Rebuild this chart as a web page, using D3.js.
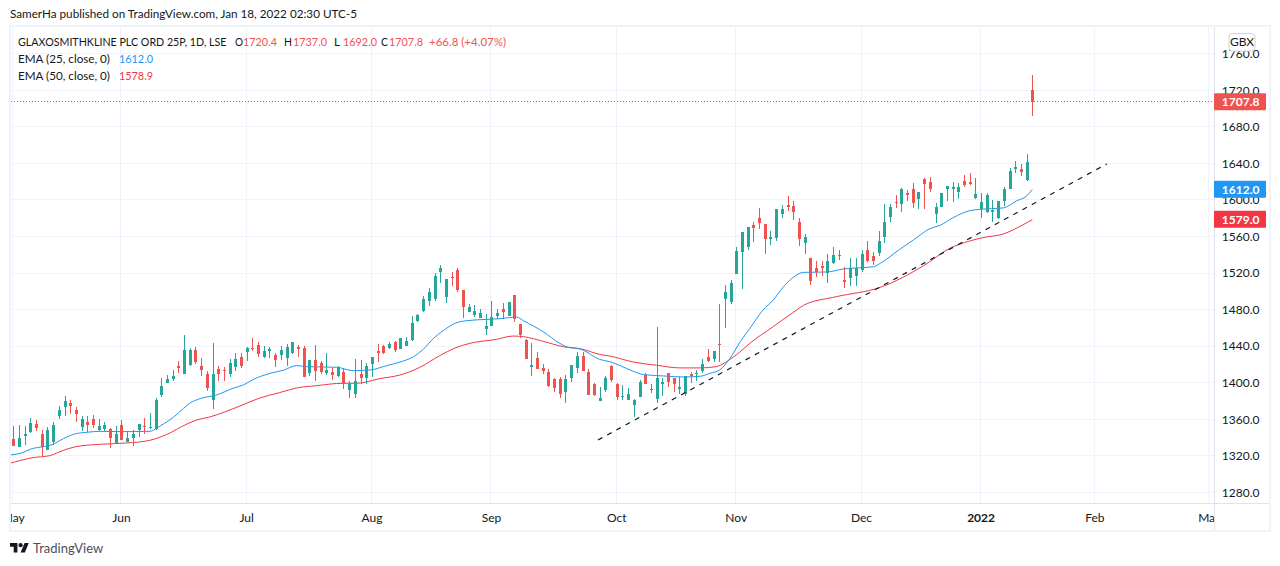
<!DOCTYPE html>
<html><head><meta charset="utf-8">
<script src="https://d3js.org/d3.v7.min.js"></script>
<style>html,body{margin:0;padding:0;background:#fff;overflow:hidden}svg{display:block}text{font-family:Lato,sans-serif}</style>
</head><body><svg id="c" width="1280" height="566"></svg>
<script>
const opens=[1339,1330.2,1342.2,1346.6,1355.3,1344.4,1326.9,1335.6,1364.1,1374,
1378.3,1370.7,1352.1,1357.5,1360.8,1348.8,1349.9,1349.9,1333.5,1354.3,
1335.6,1340,1348.8,1353.2,1351,1349.9,1387.1,1400.2,1404.6,1418.8,
1410.1,1419.9,1436.4,1418.8,1410.1,1381.6,1415.6,1414.5,1410.1,1417.7,
1428.7,1434.2,1438.5,1441.8,1428.7,1435.3,1430.9,1430.9,1427.6,1433.1,
1439.6,1438.5,1411.2,1425.4,1422.1,1411.2,1412.3,1407.9,1412.3,1392.6,
1388.2,1410.1,1405.7,1421,1435.3,1440.7,1438.5,1445.1,1437.5,1440.7,
1447.2,1468,1479,1489.9,1492.1,1521.7,1494.3,1516.2,1523.9,1502,
1477.9,1474.6,1471.3,1459.3,1462.5,1473.5,1481.2,1473.5,1496.5,1464.7,
1447.2,1417.7,1427.5,1416.6,1412.2,1404.5,1404.5,1390.3,1405.6,1416.6,
1429.7,1412.2,1399.1,1380.4,1392.6,1418.9,1399.1,1384.9,1381.6,1376.2,
1384.9,1409,1393.7,1382.7,1399.1,1411.2,1405.7,1393.7,1388.2,1410.1,
1410.1,1413.4,1428.7,1426.5,1442.9,1492.2,1488.8,1519.5,1543.6,1549.1,
1573.1,1580.8,1574.2,1557.8,1558.9,1585.2,1595,1593.9,1576.4,1553.4,
1537,1526.1,1528.3,1520.6,1531.5,1539.2,1512.9,1515.1,1517.3,1523.9,
1545.8,1539.2,1542.5,1560,1581.9,1598.3,1596.1,1608.2,1612.6,1601.6,
1623.5,1620.2,1585.2,1592.9,1612.6,1612.6,1609.3,1621.3,1620.2,1602.7,
1590.7,1587.4,1587.4,1580.8,1599.4,1612.6,1634.5,1634.5,1622.4,1720.4];
const highs=[1353.2,1354.3,1353.2,1361.9,1359.7,1348.8,1352.1,1357.5,1375,1386,
1381.6,1374,1364.1,1364.1,1365.2,1360.8,1357.5,1351,1353.2,1359.7,
1347.7,1348.8,1355.3,1361.9,1367.4,1383.8,1405.7,1409,1414.5,1424.3,
1452.8,1438.5,1439.6,1427.6,1413.4,1444,1418.8,1417.7,1426.5,1433.1,
1433.1,1439.6,1449.5,1445.1,1440.7,1439.6,1433.1,1440.7,1442.9,1445.1,
1441.8,1440.7,1425.4,1441.8,1424.3,1433.1,1416.7,1418.8,1416.7,1402.4,
1426.5,1425.4,1422.1,1428.7,1442.9,1441.8,1445.1,1446.2,1449.5,1450.5,
1473.5,1475.7,1495.4,1504.1,1520.6,1529.3,1514,1521.7,1526,1502,
1486.6,1485.5,1481.2,1475.7,1489.9,1481.2,1487.7,1488.8,1496.5,1464.7,
1448.3,1443.9,1434.1,1420.9,1415.5,1405.6,1406.7,1408.9,1419.9,1434.1,
1434.1,1415.5,1400.2,1395.8,1407.9,1420,1400.2,1398,1394.8,1382.7,
1403.5,1411.2,1399.1,1461.5,1405.7,1411.2,1405.7,1406.8,1407.9,1412.3,
1414.5,1426.5,1437.5,1435.3,1486.7,1507.5,1512.9,1549.1,1565.5,1570.9,
1576.4,1591.7,1574.2,1566.6,1590.7,1595,1604.9,1599.4,1580.8,1563.3,
1537,1533.7,1533.7,1541.4,1549.1,1545.8,1527.2,1537,1537,1545.8,
1555.6,1543.6,1566.6,1596.1,1596.1,1606,1613.7,1611.5,1619.1,1609.3,
1624.6,1625.7,1597.2,1608.2,1615.8,1620.2,1619.1,1627.9,1630.1,1624.6,
1608.2,1608.2,1600.5,1599.4,1614.7,1635.5,1643.2,1639.9,1650.9,1737];
const lows=[1331.3,1330.2,1332,1345.5,1347.7,1320.3,1326.9,1332.4,1360.8,1364.1,
1366.3,1357.5,1347.7,1346.6,1351,1347.7,1347.7,1329.1,1333.5,1337.8,
1335.6,1331.3,1341.1,1344.4,1349.9,1348.8,1384.9,1399.8,1402.4,1411.2,
1410.1,1418.8,1421,1407.9,1391.5,1371.8,1402.4,1402.4,1406.8,1413.4,
1416.7,1424.3,1435.3,1428.7,1427.6,1427.6,1417.7,1425.4,1418.8,1432,
1428.7,1406.8,1407.9,1402.4,1410.1,1409,1403.5,1406.8,1393.7,1383.8,
1383.8,1399.1,1399.1,1406.8,1423.2,1432,1437.5,1434.2,1437.5,1440.7,
1446.1,1466.9,1477.9,1484.4,1489.9,1509.6,1487.7,1506.3,1499.8,1471.3,
1477.9,1472.4,1471.3,1452.7,1462.5,1470.2,1470.2,1473.5,1466.9,1449.4,
1426.4,1407.8,1415.5,1410,1395.8,1390.3,1383.7,1378.3,1401.2,1411.1,
1413.3,1387,1385.9,1380.4,1390.4,1401.3,1381.6,1381.6,1381.6,1363,
1384.9,1399.1,1389.3,1378.4,1386,1395.9,1390.4,1388.2,1386,1400.2,
1402.4,1411.2,1423.2,1423.2,1423.2,1460.5,1486.7,1519.5,1503.1,1545.8,
1554.5,1568.8,1541.4,1551.2,1555.6,1580.8,1588.5,1578.6,1550.2,1541.4,
1507.5,1516.2,1517.3,1509.6,1530.4,1534.8,1504.2,1506.4,1506.4,1521.7,
1532.6,1529.3,1539.2,1553.4,1576.4,1591.8,1587.4,1599.4,1591.8,1590.7,
1590.7,1609.3,1575.3,1592.9,1599.4,1598.3,1601.6,1614.7,1616.9,1601.6,
1580.8,1586.3,1576.4,1579.7,1594,1612.6,1630.1,1626.8,1621.3,1692];
const closes=[1331.3,1340,1344.4,1356.4,1351,1330.2,1348.8,1354.3,1370.7,1380.5,
1375,1366.3,1360.8,1354.3,1354.3,1353.2,1354.3,1340,1344.4,1337.8,
1340,1344.4,1355.3,1352.1,1352.1,1381.6,1397,1404.6,1407.9,1416.7,
1436.4,1436.4,1423.2,1414.5,1394.8,1410.1,1410.1,1413.4,1422.1,1426.5,
1418.8,1438.5,1437.5,1432,1435.3,1437.5,1425.4,1436.4,1439.6,1445.1,
1437.5,1406.8,1425.4,1413.4,1412.3,1414.5,1409,1417.7,1399.1,1399.1,
1402.4,1405.7,1418.8,1428.7,1433.1,1433.1,1442.9,1436.4,1449.5,1446.1,
1465.8,1474.6,1492.1,1499.8,1517.3,1526,1514,1515.1,1502,1483.3,
1483.3,1479,1476.8,1462.5,1472.4,1476.8,1477.9,1488.8,1470.2,1452.7,
1426.4,1419.9,1415.5,1413.3,1396.9,1394.7,1388.1,1404.5,1419.9,1429.7,
1413.3,1387,1387,1383.7,1405.7,1403.5,1384.9,1386,1388.2,1381.6,
1401.3,1399.1,1392.6,1405.7,1401.3,1401.3,1399.1,1395.9,1407.9,1407.9,
1411.2,1421,1424.3,1435.3,1441.8,1499.9,1509.6,1544.7,1565.5,1570.9,
1569.9,1575.3,1557.8,1560,1590.7,1590.7,1592.8,1587.4,1557.8,1560,
1511.8,1521.7,1526.1,1533.7,1540.3,1540.3,1510.7,1526.1,1526.1,1541.4,
1533.7,1533.7,1555.6,1576.4,1592.9,1597.2,1612.6,1606,1597.2,1609.3,
1618,1612.6,1592.9,1608.2,1615.8,1614.7,1614.7,1616.9,1618,1607.1,
1598.3,1606,1589.6,1599.4,1612.6,1632.3,1636.6,1631.2,1642.1,1707.8];

const ema25At=[-0.6,1.2,3.5,5,6.7,8.8,10.8,12.9,15.2,18.2,21.1,24,25.8,28.1,29.9,31,32.8,35.7,38.6,40.4,42.2,45.1,47.4,49.8,51.5,54.4,56.8,59.7,62.7,65.6,67.9,70.3,72,73.8,75.5,77.6,79.6,83.1,85.5,88.4,89.6,93.1,96,97.2,99.8,103,104.8,106.6,108.9,110.7,114.2,117.7,120.6,122.4,124.1,125.9,127.7,129.4,131.7,133.5,135.2,137,138.8,142.9,145.8,151.1,152.3,155.7,158.1,161,162.8,165.1,168,169.8,173.9,176.2,178,179];
const ema25=[1321.4,1323.2,1328.7,1330.2,1332.4,1339.3,1344.4,1346.2,1347.3,1347,1347,1347.3,1353.2,1362.6,1372.5,1378,1383.1,1387.1,1394.4,1398,1404.2,1410.8,1414.1,1419.2,1418.1,1417.7,1417.4,1413.7,1414.5,1419.2,1423.1,1429,1437,1449,1457.4,1465.5,1468.4,1469.8,1470.6,1472.4,1468.4,1456.3,1443.6,1439.9,1437,1426,1423.5,1419.2,1413,1409.4,1407.9,1406.8,1407.5,1410.8,1414.5,1427.2,1445.5,1460.1,1480.1,1491,1504.9,1515.8,1521.3,1521.7,1525,1527.5,1531.2,1546.5,1556.7,1569.1,1572.8,1581.2,1588.8,1590.3,1591.8,1599.4,1604.9,1612];
const ema50At=[-0.6,3.5,6.4,8.8,10.8,15.2,19.9,24,26.9,30.5,32.2,34.5,39.8,43.3,46.8,49.8,53.3,57.9,60.3,64.4,67.9,71.4,74.9,77.6,80.2,84.9,87.8,89.6,93.1,96.6,99.8,103,104.8,108.9,113,117.1,120.6,123.5,125.3,127.7,129.4,133.5,137.6,138.8,144.6,152.3,160,164.5,168,170.3,173.9,177.4,179];
const ema50=[1312.3,1318.5,1320.7,1326.5,1330.2,1333.1,1334.5,1337.5,1343.7,1355.3,1359.7,1363,1375,1383.8,1389.7,1394.8,1397.3,1399.9,1399.9,1405,1408.9,1417.3,1430.1,1438.5,1443.6,1448,1451.6,1450.9,1445.8,1439.9,1437.4,1431.5,1429.7,1423.2,1419.6,1416.7,1416.7,1418.1,1423.6,1434.5,1443.7,1462,1480.1,1485.2,1494.7,1504.9,1529,1547.6,1555.6,1559.3,1563.3,1573.5,1579];
const trendAt=[102.7,192.1];
const trendPrice=[1337.8,1640];
const priceTicks=[1760,1720,1680,1640,1600,1560,1520,1480,1440,1400,1360,1320,1280];
const monthLabels=["May","Jun","Jul","Aug","Sep","Oct","Nov","Dec","2022","Feb","Mar"];
const monthAt=[0,19,41,63,84,106,127,149,170,190,210];

const UP="#26a69a",DOWN="#ef5350",BLUE="#2196f3",CRIM="#f23645",INK="#131722",GRID="#f0f3fa",EDGE="#e0e3eb";
const L=11,R=1214,T=27,B=503;
const x=d3.scaleLinear().domain([0,179]).range([13.3,1032.3]);
const y=d3.scaleLinear().domain([1280,1760]).range([492.8,54.3]);
const svg=d3.select("#c");
svg.append("defs").append("clipPath").attr("id","pane").append("rect").attr("x",L).attr("y",T).attr("width",R-L).attr("height",B-T);

const grid=svg.append("g").attr("shape-rendering","crispEdges").attr("stroke",GRID);
grid.selectAll("line.h").data(priceTicks).join("line").attr("x1",L).attr("x2",R)
  .attr("y1",d=>Math.round(y(d))+.5-1).attr("y2",d=>Math.round(y(d))+.5-1);
grid.selectAll("line.v").data(monthAt).join("line").attr("y1",T).attr("y2",B)
  .attr("x1",d=>Math.round(x(d))+.5-1).attr("x2",d=>Math.round(x(d))+.5-1);

const pane=svg.append("g").attr("clip-path","url(#pane)");
pane.append("line").attr("x1",L).attr("x2",R).attr("y1",Math.round(y(1707.8))-.5).attr("y2",Math.round(y(1707.8))-.5)
  .attr("stroke",DOWN).attr("stroke-dasharray","1 2");

const ln=d3.line().x(d=>x(d[0])).y(d=>y(d[1])).curve(d3.curveMonotoneX);
pane.append("path").attr("d",ln(d3.zip(ema50At,ema50))).attr("fill","none").attr("stroke",CRIM).attr("stroke-width",1);
pane.append("path").attr("d",ln(d3.zip(ema25At,ema25))).attr("fill","none").attr("stroke",BLUE).attr("stroke-width",1);

const bars=d3.range(opens.length);
const col=i=>closes[i]>=opens[i]?UP:DOWN;
const cg=pane.append("g").attr("shape-rendering","crispEdges");
cg.selectAll("rect.w").data(bars).join("rect").attr("x",i=>Math.round(x(i))).attr("width",1)
  .attr("y",i=>y(highs[i])).attr("height",i=>Math.max(1,y(lows[i])-y(highs[i]))).attr("fill",col);
cg.selectAll("rect.b").data(bars).join("rect").attr("x",i=>Math.round(x(i))-1).attr("width",3)
  .attr("y",i=>y(Math.max(opens[i],closes[i]))).attr("height",i=>Math.max(1,Math.abs(y(opens[i])-y(closes[i])))).attr("fill",col);

pane.append("line").attr("x1",x(trendAt[0])).attr("y1",y(trendPrice[0])).attr("x2",x(trendAt[1])).attr("y2",y(trendPrice[1]))
  .attr("stroke",INK).attr("stroke-width",1.2).attr("stroke-dasharray","5 5.5");

const fr=svg.append("g").attr("shape-rendering","crispEdges");
fr.append("rect").attr("x",R).attr("y",T).attr("width",1).attr("height",B-T+28).attr("fill",EDGE);
fr.append("rect").attr("x",L).attr("y",B).attr("width",1258).attr("height",1).attr("fill",EDGE);
fr.append("rect").attr("x",10).attr("y",26).attr("width",1260).attr("height",505).attr("fill","none").attr("stroke",GRID).attr("stroke-width",2);

svg.append("g").selectAll("text").data(priceTicks).join("text").attr("x",1259.5).attr("y",d=>y(d)+3.8)
  .attr("text-anchor","end").attr("font-size",12).attr("fill",INK).text(d=>d.toFixed(1));
svg.append("defs").append("clipPath").attr("id","tax").append("rect").attr("x",L).attr("y",B).attr("width",R-L).attr("height",28);
svg.append("g").attr("clip-path","url(#tax)").selectAll("text").data(monthLabels).join("text")
  .attr("x",(d,i)=>x(monthAt[i])).attr("y",521.5).attr("text-anchor","middle").attr("font-size",12).attr("fill",INK)
  .attr("font-weight",d=>d==="2022"?700:400).text(d=>d);

svg.append("rect").attr("x",1229).attr("y",33.5).attr("width",26).attr("height",17.5).attr("rx",3.5).attr("fill","#fff").attr("stroke","#d1d4dc");
svg.append("text").attr("x",1242).attr("y",46).attr("text-anchor","middle").attr("font-size",12).attr("fill",INK).text("GBX");

const tags=[[1707.8,DOWN,"1707.8"],[1612,BLUE,"1612.0"],[1579,CRIM,"1579.0"]];
const tg=svg.append("g").selectAll("g").data(tags).join("g");
tg.append("rect").attr("x",1214).attr("y",d=>y(d[0])-8.8).attr("width",52).attr("height",17).attr("rx",1).attr("fill",d=>d[1]);
tg.append("text").attr("x",1259.5).attr("y",d=>y(d[0])+4).attr("text-anchor","end").attr("font-size",12).attr("font-weight",700).attr("fill","#fff").text(d=>d[2]);

// text placed to the reference's measured width
const put=(xp,yp,t,c,w)=>svg.append("text").attr("x",xp).attr("y",yp).attr("font-size",12).attr("fill",c)
  .attr("textLength",w).attr("lengthAdjust","spacingAndGlyphs").text(t);
put(18,46,"GLAXOSMITHKLINE PLC ORD 25P, 1D, LSE",INK,208.5);
put(235,46,"O",INK,8);put(243,46,"1720.4",DOWN,34);
put(284,46,"H",INK,8);put(293,46,"1737.0",DOWN,34);
put(334,46,"L",INK,6);put(343,46,"1692.0",DOWN,34);
put(381,46,"C",INK,7);put(389,46,"1707.8",DOWN,34);
put(429,46,"+66.8 (+4.07%)",DOWN,77);
put(18,63,"EMA (25, close, 0)",INK,92);put(119,63,"1612.0",BLUE,34);
put(18,80,"EMA (50, close, 0)",INK,92);put(119,80,"1578.9",CRIM,34);
put(10,18,"SamerHa published on TradingView.com, Jan 18, 2022 02:30 UTC-5",INK,347);

const logo=svg.append("g").attr("transform","translate(10,540.9) scale(0.53)").attr("fill",INK);
logo.append("path").attr("d","M14 22H7V11H0V4h14v18zM28 22h-8l7.5-18h8L28 22z");
logo.append("circle").attr("cx",20).attr("cy",8).attr("r",4);
svg.append("text").attr("x",33).attr("y",553).attr("font-size",13).attr("fill","#4a4f5c").text("TradingView");
</script></body></html>
